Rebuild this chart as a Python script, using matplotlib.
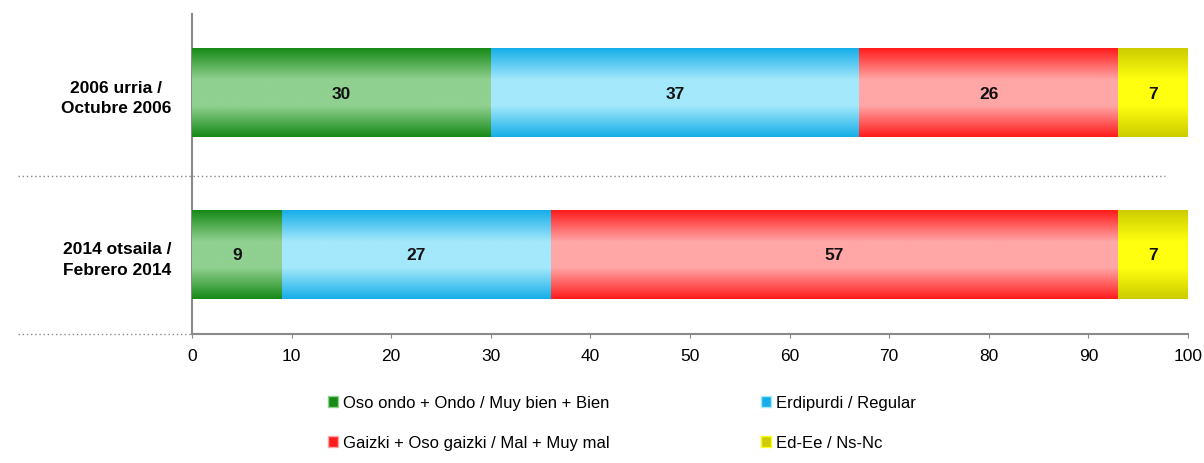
import matplotlib.pyplot as plt
import numpy as np
from matplotlib.colors import LinearSegmentedColormap
from matplotlib.patches import Patch

plt.rcParams["font.family"] = ["Liberation Sans", "DejaVu Sans"]

categorias = ["2014 otsaila /\nFebrero 2014", "2006 urria /\nOctubre 2006"]
series = [
    "Oso ondo + Ondo / Muy bien + Bien",
    "Erdipurdi / Regular",
    "Gaizki + Oso gaizki / Mal + Muy mal",
    "Ed-Ee / Ns-Nc",
]
valores = {
    "Oso ondo + Ondo / Muy bien + Bien": [9, 30],
    "Erdipurdi / Regular": [27, 37],
    "Gaizki + Oso gaizki / Mal + Muy mal": [57, 26],
    "Ed-Ee / Ns-Nc": [7, 7],
}
ticks_x = [0, 10, 20, 30, 40, 50, 60, 70, 80, 90, 100]

# color de borde y color central del degradado de cada serie
colores = {
    "Oso ondo + Ondo / Muy bien + Bien": ("#178a17", "#90d090"),
    "Erdipurdi / Regular": ("#16aee8", "#a3e8fb"),
    "Gaizki + Oso gaizki / Mal + Muy mal": ("#ff1c1c", "#ffa6a6"),
    "Ed-Ee / Ns-Nc": ("#cccc00", "#ffff10"),
}

fig = plt.figure(figsize=(12.04, 4.64), dpi=100)
ax = fig.add_axes([0.1595, 0.278, 0.8272, 0.69])

y = np.arange(len(categorias))
alto = 0.545
izquierda = np.zeros(len(categorias))
for nombre in series:
    borde, centro = colores[nombre]
    cmap = LinearSegmentedColormap.from_list(
        nombre, [(0, borde), (0.35, centro), (0.65, centro), (1, borde)])
    barras = ax.barh(y, valores[nombre], left=izquierda, height=alto,
                     color=borde, edgecolor="none", zorder=2)
    grad = np.linspace(0, 1, 128).reshape(-1, 1)
    for b in barras:
        x0, y0 = b.get_x(), b.get_y()
        ax.imshow(grad, cmap=cmap, aspect="auto", zorder=3, origin="lower",
                  extent=(x0, x0 + b.get_width(), y0, y0 + b.get_height()),
                  interpolation="bilinear")
        ax.text(x0 + b.get_width() / 2, y0 + b.get_height() / 2,
                str(int(b.get_width())), ha="center", va="center",
                fontsize=12.5, fontweight="bold", color="#111111", zorder=4)
    izquierda = izquierda + np.array(valores[nombre])

ax.set_xlim(0, 100)
ax.set_ylim(-0.49, 1.49)
ax.set_xticks(ticks_x)
ax.set_yticks(y)
ax.set_yticklabels(categorias, fontsize=12.5, fontweight="bold",
                   linespacing=1.45)
for etiqueta in ax.get_yticklabels():
    etiqueta.set_multialignment("center")
ax.tick_params(axis="y", length=0, pad=15)
ax.tick_params(axis="x", direction="out", length=3, color="#888888",
               labelsize=12.5, pad=7)

for lado in ["top", "right"]:
    ax.spines[lado].set_visible(False)
for lado in ["left", "bottom"]:
    ax.spines[lado].set_color("#8a8a8a")
    ax.spines[lado].set_linewidth(1.5)

# lineas punteadas de separacion
ax.plot([-17.5, 97.7], [0.49, 0.49], linestyle=(0, (1, 2)), color="#888888",
        linewidth=1, clip_on=False, zorder=1)
ax.plot([-17.5, 0], [-0.49, -0.49], linestyle=(0, (1, 2)), color="#888888",
        linewidth=1, clip_on=False, zorder=1)

# orden por filas como en la leyenda original
orden = [0, 2, 1, 3]
manejadores = [Patch(facecolor=colores[series[i]][0],
                     edgecolor=colores[series[i]][1]) for i in orden]
fig.legend(manejadores, [series[i] for i in orden], loc="lower left",
           bbox_to_anchor=(0.26, -0.005), ncol=2, frameon=False, fontsize=12,
           handlelength=0.6, handleheight=0.6, handletextpad=0.3,
           columnspacing=9.1, labelspacing=1.5)

plt.savefig("out.png", dpi=100)
plt.close()
